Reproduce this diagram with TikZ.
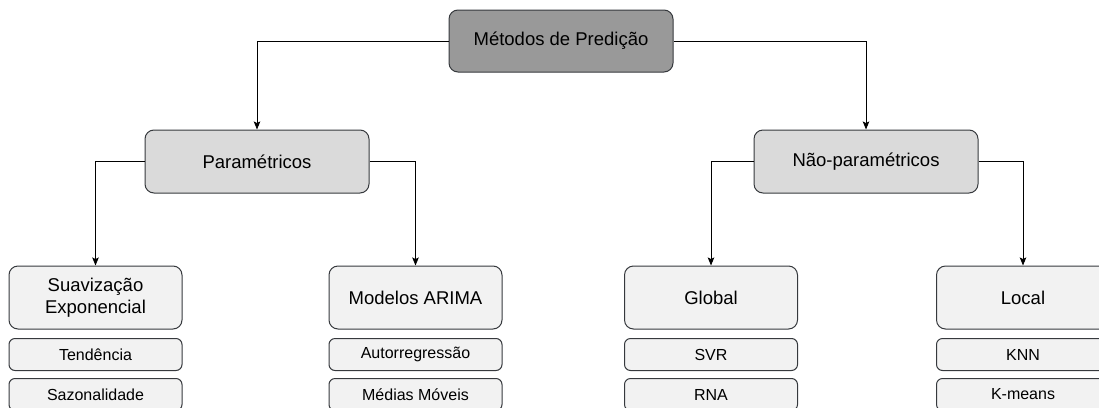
\documentclass[tikz,border=0pt]{standalone}
\usepackage{fontspec}
\setmainfont{Liberation Sans}
\usetikzlibrary{arrows.meta}
\definecolor{edgegray}{HTML}{36393D}
\definecolor{rootfill}{HTML}{999999}
\definecolor{midfill}{HTML}{DADADA}
\definecolor{leaffill}{HTML}{F2F2F2}
\tikzset{
  box/.style={draw=edgegray, line width=1pt, rounded corners=9pt, inner sep=0pt,
    align=center, text=black, font=\fontsize{18.5}{22.5}\selectfont},
  rootbox/.style={box, fill=rootfill, minimum width=224pt, minimum height=62pt},
  midbox/.style={box, fill=midfill, minimum width=224pt, minimum height=63pt},
  leafbox/.style={box, fill=leaffill, minimum width=173pt, minimum height=63pt},
  itembox/.style={box, fill=leaffill, rounded corners=6pt, minimum width=173pt,
    minimum height=32pt, font=\fontsize{16}{19}\selectfont},
  link/.style={draw=black, line width=0.9pt,
    -{Stealth[length=8pt,width=6.5pt,inset=1.5pt]}}
}
\begin{document}
\begin{tikzpicture}[x=1pt, y=-1pt]
  \useasboundingbox (0,0) rectangle (1099,407);
  \clip (0,0) rectangle (1099,407);

  % root
  \node[rootbox] (root) at (561,41) {Métodos de Predição};

  % second level
  \node[midbox] (par)  at (257,161.5) {Paramétricos};
  \node[midbox] (npar) at (866,161.5) {Não-paramétricos};

  % third level
  \node[leafbox] (suav)  at (95.5,297.5)  {Suavização\\Exponencial};
  \node[leafbox] (arima) at (415.5,297.5) {Modelos ARIMA};
  \node[leafbox] (glob)  at (711,297.5)   {Global};
  \node[leafbox] (loc)   at (1023,297.5)  {Local};

  % method items
  \node[itembox] (tend)  at (95.5,354.5)  {Tendência};
  \node[itembox] (sazo)  at (95.5,394.5)  {Sazonalidade};
  \node[itembox] (ar)    at (415.5,354.5) {Autorregressão};
  \node[itembox] (mm)    at (415.5,394.5) {Médias Móveis};
  \node[itembox] (svr)   at (711,354.5)   {SVR};
  \node[itembox] (rna)   at (711,394.5)   {RNA};
  \node[itembox] (knn)   at (1023,354.5)  {KNN};
  \node[itembox] (kmeans) at (1023,394.5) {K-means};

  % connectors
  \draw[link] (root.west) -| (par.north);
  \draw[link] (root.east) -| (npar.north);
  \draw[link] (par.west)  -| (suav.north);
  \draw[link] (par.east)  -| (arima.north);
  \draw[link] (npar.west) -| (glob.north);
  \draw[link] (npar.east) -| (loc.north);
\end{tikzpicture}
\end{document}
